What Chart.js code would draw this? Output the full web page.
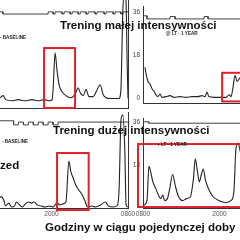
<!DOCTYPE html>
<html>
<head>
<meta charset="utf-8">
<script src="https://cdn.jsdelivr.net/npm/chart.js@4"></script>
<style>
  body { margin: 0; background: #fff; }
  #wrap { position: relative; width: 240px; height: 240px; overflow: hidden; background: #fff; }
  canvas { position: absolute; }
  .big { position: absolute; font: bold 11.5px "Liberation Sans", Arial, sans-serif; color: #111; white-space: nowrap; line-height: 14px; }
  .tiny { position: absolute; font: bold 4.6px "Liberation Sans", Arial, sans-serif; color: #222; white-space: nowrap; line-height: 6px; }
</style>
</head>
<body>
<div id="wrap">
  <canvas id="tl" width="165" height="110" style="left:-27px;top:0px"></canvas>
  <canvas id="tr" width="180" height="110" style="left:118px;top:0px"></canvas>
  <canvas id="bl" width="165" height="108" style="left:-27px;top:112px"></canvas>
  <canvas id="br" width="180" height="108" style="left:118px;top:112px"></canvas>

  <div class="big" style="left:60px;top:18px">Trening małej intensywności</div>
  <div class="big" style="left:53px;top:123px">Trening dużej intensywności</div>
  <div class="big" style="left:0px;top:158px">zed</div>
  <div class="big" style="left:45px;top:220px">Godziny w ciągu pojedynczej doby</div>

  <div class="tiny" style="left:0px;top:35px">- BASELINE</div>
  <div class="tiny" style="left:166px;top:31px">@ LT - 1 YEAR</div>
  <div class="tiny" style="left:2px;top:139px">- BASELINE</div>
  <div class="tiny" style="left:157px;top:142px">+ LT - 1 YEAR</div>
</div>
<script>
// hours of the day (8 = 0800, 20 = 2000, 32 = 0800 next day) and trace values (0-36 scale)
const tlHours = [8, 12.19, 12.65, 13.1, 14.05, 14.98, 16.06, 17.15, 18.08, 19.0, 19.94, 20.25, 20.4, 20.71, 21.0, 21.33, 21.8, 22.4, 23.04, 23.5, 23.97, 24.28, 24.6, 25.05, 25.5, 25.97, 26.6, 27.07, 27.69, 28.16, 28.6, 29.25, 30.0, 30.6, 30.9, 31.2, 31.45, 31.7, 31.86, 32];
const tlValues = [1, 1.8, 2.6, 1.1, 0.7, 1.1, 0.7, 1.1, 0.7, 1.1, 0.7, 1.1, 4.8, 18.4, 12.1, 6.6, 4.0, 2.6, 1.8, 2.2, 4.0, 5.5, 3.7, 2.6, 4.8, 2.2, 2.2, 4.0, 6.6, 2.9, 1.8, 1.5, 1.5, 1.5, 4.8, 34, 40, 37, 15.8, 1.5];

const trHours = [8.31, 8.47, 8.78, 9.09, 9.4, 9.7, 10.0, 10.3, 10.64, 10.95, 11.57, 12.19, 12.8, 13.7, 14.67, 15.6, 16.5, 17.15, 17.6, 17.9, 18.2, 19.0, 19.9, 20.87, 21.33, 21.64, 21.95, 22.26, 22.57, 23.04, 23.8, 25, 27, 29, 32];
const trValues = [12.9, 10.3, 7.0, 5.9, 4.0, 2.9, 1.5, 0.7, 1.8, 0.4, 0.7, 1.1, 0.4, 0.7, 0.4, 0.7, 0.7, 1.1, 0.7, 2.6, 0.7, 0.4, 0.4, 0.4, 1.5, 0.7, 4.8, 9.6, 7.0, 8.5, 4.8, 2, 1, 1, 1];

const blHours = [8, 12.19, 12.5, 12.8, 13.27, 13.74, 14.2, 14.5, 14.98, 15.44, 15.9, 16.37, 16.84, 17.3, 17.77, 18.39, 19.0, 19.63, 20.25, 20.87, 21.33, 21.8, 22.26, 22.73, 23.04, 23.35, 23.8, 24.28, 24.74, 25.2, 25.67, 26.3, 26.9, 27.7, 28.47, 28.9, 29.7, 30.3, 30.6, 30.9, 31.2, 31.5, 31.7, 32.0];
const blValues = [1, 4.3, 3.1, 0.8, 1.9, 0.4, 0.8, 2.3, 1.2, 0.4, 1.6, 2.3, 1.9, 2.3, 1.2, 0.8, 0.4, 0.8, 0.4, 1.9, 1.2, 1.6, 2.3, 18.2, 14.0, 12.0, 8.9, 7.0, 5.4, 3.1, 0.4, 0.8, 0.4, 1.2, 2.3, 0.8, 0.4, 0.8, 7.0, 34.1, 36, 22.5, 1.2, 0.4];

const brHours = [8.16, 8.62, 8.93, 9.24, 9.55, 10.0, 10.48, 10.8, 11.1, 11.4, 11.88, 12.19, 12.65, 13.1, 13.58, 14.2, 14.82, 15.44, 15.9, 16.2, 16.53, 16.84, 17.15, 17.46, 17.77, 18.08, 18.54, 19.0, 19.63, 20.25, 21.0, 21.8, 22.26, 22.57, 22.9, 23.35, 25, 28, 32];
const brValues = [1.2, 3.1, 17.4, 14.7, 10.9, 8.1, 5.0, 3.9, 5.4, 3.1, 4.3, 8.1, 14.0, 8.9, 4.7, 3.1, 3.9, 4.7, 12.0, 20.5, 15.5, 10.9, 14.0, 16.3, 12.0, 9.3, 6.6, 4.7, 3.5, 2.7, 2.3, 3.1, 7.0, 24.4, 27.1, 22.5, 5, 3, 2];

// activity marker line along the top of each panel
const tlActHours = [8, 12.65, 12.65, 19.63, 19.63, 20.4, 20.4, 20.71, 20.71, 21.8, 21.8, 22.1, 22.1, 23.04, 23.04, 23.35, 23.35, 24.28, 24.28, 24.6, 24.6, 25.5, 25.5, 25.83, 25.83, 26.9, 26.9, 27.2, 27.2, 28.3, 28.3, 28.6, 28.6, 29.7, 29.7, 30.0, 30.0, 30.9, 30.9, 31.2, 31.2, 32];
const tlActValues = [33.6, 33.6, 32.8, 32.8, 33.6, 33.6, 32.8, 32.8, 33.6, 33.6, 32.8, 32.8, 33.6, 33.6, 32.8, 32.8, 33.6, 33.6, 32.8, 32.8, 33.6, 33.6, 32.8, 32.8, 33.6, 33.6, 32.8, 32.8, 33.6, 33.6, 32.8, 32.8, 33.6, 33.6, 32.8, 32.8, 33.6, 33.6, 32.8, 32.8, 33.6, 33.6];

const trActHours = [8, 8.62, 8.62, 12.19, 12.19, 12.96, 12.96, 17.46, 17.46, 18.08, 18.08, 32];
const trActValues = [34.3, 34.3, 33.0, 33.0, 34.0, 34.0, 33.0, 33.0, 34.0, 34.0, 33.0, 33.0];

const blActHours = [8, 14.05, 14.05, 14.82, 14.82, 15.6, 15.6, 16.37, 16.37, 17.15, 17.15, 17.92, 17.92, 18.7, 18.7, 19.47, 19.47, 20.25, 20.25, 21.03, 21.03, 32];
const blActValues = [33.8, 33.8, 32.2, 32.2, 33.3, 33.3, 32.2, 32.2, 33.3, 33.3, 32.2, 32.2, 33.3, 33.3, 32.2, 32.2, 33.3, 33.3, 32.2, 32.2, 33.3, 33.3];

const brActHours = [8, 8.9, 8.9, 32];
const brActValues = [36, 36, 35.4, 35.4];

// red highlight boxes: [hourFrom, hourTo, valueLow, valueHigh]
const tlBox = [19.0, 23.8, -2.0, 20.2];
const trBox = [20.25, 24.5, -1.3, 10.6];
const blBox = [20.87, 25.83, -0.8, 21.3];
const brBox = [7.22, 24.5, 0.4, 26.7];

const xTickLabels = { 8: '0800', 20: '2000', 32: '0800' };
const yTickValues = [0, 18, 36];

function pts(xs, ys) {
  return xs.map((x, i) => ({ x: x, y: ys[i] }));
}

const redBoxPlugin = {
  id: 'redBox',
  afterDatasetsDraw(chart, args, opts) {
    const b = opts.box;
    if (!b) return;
    const xs = chart.scales.x, ys = chart.scales.y;
    const x1 = xs.getPixelForValue(b[0]), x2 = xs.getPixelForValue(b[1]);
    const y1 = ys.getPixelForValue(b[3]), y2 = ys.getPixelForValue(b[2]);
    const ctx = chart.ctx;
    ctx.save();
    ctx.strokeStyle = '#e0212b';
    ctx.lineWidth = 2;
    ctx.strokeRect(x1, y1, x2 - x1, y2 - y1);
    ctx.restore();
  }
};

function makePanel(id, trace, act, box, opt) {
  const tickFont = { family: 'Liberation Sans', size: 6.5 };
  return new Chart(document.getElementById(id), {
    type: 'line',
    data: {
      datasets: [
        { data: trace, borderColor: '#222', borderWidth: 1.1, pointRadius: 0,
          cubicInterpolationMode: 'monotone' },
        { data: act, borderColor: '#444', borderWidth: 1, pointRadius: 0, tension: 0 }
      ]
    },
    options: {
      responsive: false,
      animation: false,
      layout: { padding: 0 },
      plugins: { legend: { display: false }, tooltip: { enabled: false }, redBox: { box: box } },
      scales: {
        x: {
          type: 'linear', min: 8, max: 32,
          afterBuildTicks: s => { s.ticks = [8, 20, 32].map(v => ({ value: v })); },
          afterFit: s => { s.height = opt.xHeight; },
          ticks: { display: opt.xLabels, font: tickFont, color: '#555', padding: 2, maxRotation: 0,
                   callback: v => opt.hideHours.includes(v) ? '' : xTickLabels[v] },
          grid: { display: false, drawTicks: false },
          border: { display: true, color: '#333', width: 1 }
        },
        y: {
          min: opt.yMin, max: opt.yMax,
          display: opt.yAxis,
          afterBuildTicks: s => { s.ticks = yTickValues.map(v => ({ value: v })); },
          afterFit: s => { s.width = opt.yAxis ? 25 : 0; },
          ticks: { font: tickFont, color: '#444', padding: 3,
                   callback: v => (opt.hideZero && v === 0) ? '' : String(v) },
          grid: { display: false, drawTicks: false },
          border: { display: true, color: '#333', width: 1 }
        },
        yr: {
          position: 'right', min: 0, max: 1,
          display: !opt.yAxis,
          afterFit: s => { s.width = opt.yAxis ? 0 : 10; },
          ticks: { display: false },
          grid: { display: false, drawTicks: false },
          border: { display: true, color: '#333', width: 1 }
        }
      }
    },
    plugins: [redBoxPlugin]
  });
}

makePanel('tl', pts(tlHours, tlValues), pts(tlActHours, tlActValues), tlBox,
  { xHeight: 2, xLabels: false, yAxis: false, yMin: -2, yMax: 38, hideHours: [8] });
makePanel('tr', pts(trHours, trValues), pts(trActHours, trActValues), trBox,
  { xHeight: 2, xLabels: false, yAxis: true, yMin: -2, yMax: 38, hideHours: [32] });
makePanel('bl', pts(blHours, blValues), pts(blActHours, blActValues), blBox,
  { xHeight: 12, xLabels: true, yAxis: false, yMin: 0, yMax: 37.2, hideHours: [8] });
makePanel('br', pts(brHours, brValues), pts(brActHours, brActValues), brBox,
  { xHeight: 12, xLabels: true, yAxis: true, yMin: 0, yMax: 37.2, hideZero: true, hideHours: [32] });
</script>
</body>
</html>
